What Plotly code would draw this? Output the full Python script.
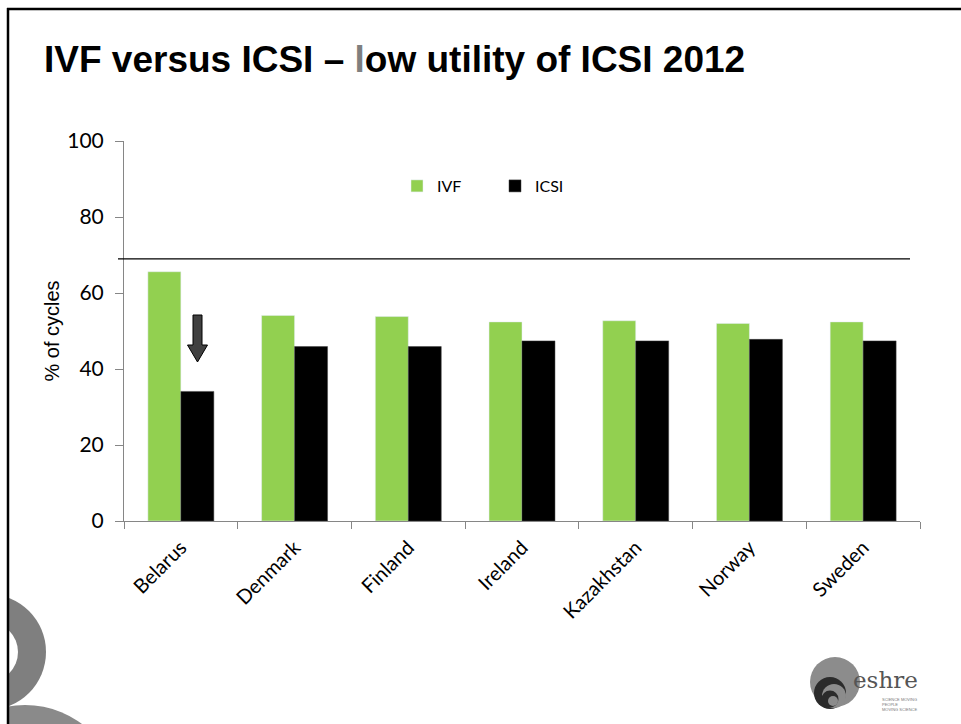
import plotly.graph_objects as go

countries = ["Belarus", "Denmark", "Finland", "Ireland", "Kazakhstan", "Norway", "Sweden"]
ivf = [65.6, 54.1, 53.8, 52.4, 52.7, 52.0, 52.4]
icsi = [34.1, 45.9, 45.9, 47.4, 47.4, 47.8, 47.4]
threshold = 69
y_ticks = [0, 20, 40, 60, 80, 100]

W, H = 961, 724
L, R, T, B = 124, 41, 141, 203
PW, PH = W - L - R, H - T - B


def px(x):
    return (x - L) / PW


def py(y):
    return (H - B - y) / PH


fig = go.Figure()
fig.add_trace(go.Bar(name="IVF", x=countries, y=ivf, marker_color="#92D050"))
fig.add_trace(go.Bar(name="ICSI", x=countries, y=icsi, marker_color="#000000",
                     marker_line=dict(color="#404040", width=0.5)))

shapes = []
# threshold line
shapes.append(dict(type="line", xref="paper", yref="y", x0=px(118), x1=px(910),
                   y0=threshold, y1=threshold, line=dict(color="black", width=1.2)))

# block arrow over Belarus ICSI bar
ax = 197.5
arrow_path = (f"M {px(ax-4.5)} {py(315)} L {px(ax+4.5)} {py(315)} L {px(ax+4.5)} {py(345)} "
              f"L {px(ax+10)} {py(345)} L {px(ax)} {py(362)} L {px(ax-10)} {py(345)} "
              f"L {px(ax-4.5)} {py(345)} Z")
shapes.append(dict(type="path", xref="paper", yref="paper", path=arrow_path,
                   fillcolor="#404040", line=dict(color="black", width=1)))


def circle(cx, cy, r, color, layer="below"):
    return dict(type="circle", xref="paper", yref="paper",
                x0=px(cx - r), x1=px(cx + r), y0=py(cy + r), y1=py(cy - r),
                fillcolor=color, line=dict(width=0), layer=layer)


# decorative rings bottom-left
shapes.append(circle(-12, 652, 58, "#7f7f7f"))
shapes.append(circle(-12, 652, 30, "white"))
shapes.append(circle(25, 800, 95, "#8a8a8a"))
shapes.append(circle(25, 800, 75, "white"))
# white mask left of frame
shapes.append(dict(type="rect", xref="paper", yref="paper", x0=px(-50), x1=px(8),
                   y0=py(800), y1=py(-10), fillcolor="white", line=dict(width=0), layer="below"))
# slide frame
shapes.append(dict(type="line", xref="paper", yref="paper", x0=px(7), x1=px(965),
                   y0=py(9), y1=py(9), line=dict(color="black", width=2.5)))
shapes.append(dict(type="line", xref="paper", yref="paper", x0=px(8), x1=px(8),
                   y0=py(8), y1=py(730), line=dict(color="black", width=2.5)))

# eshre logo
shapes.append(circle(835, 682, 25, "#8c8c8c", layer="above"))
shapes.append(circle(830, 693, 16, "#2b2b2b", layer="above"))
shapes.append(circle(834, 696, 12, "#8c8c8c", layer="above"))
shapes.append(circle(830, 699, 8.5, "#2b2b2b", layer="above"))
shapes.append(circle(833, 701, 5, "#8c8c8c", layer="above"))

annotations = [
    dict(text="<b>IVF versus ICSI – <span style='color:#7f7f7f'>l</span>ow utility of ICSI 2012</b>",
         xref="paper", yref="paper", x=px(42), y=py(59), xanchor="left", yanchor="middle",
         showarrow=False, font=dict(family="Liberation Sans, Arial", size=37, color="black")),
    dict(text="eshre", xref="paper", yref="paper", x=px(851), y=py(680), xanchor="left",
         yanchor="middle", showarrow=False,
         font=dict(family="DejaVu Serif, serif", size=23, color="#555555")),
    dict(text="SCIENCE MOVING<br>PEOPLE<br>MOVING SCIENCE", xref="paper", yref="paper",
         x=px(880), y=py(704), xanchor="left", yanchor="middle", showarrow=False, align="left",
         font=dict(family="Liberation Sans", size=4, color="#777777")),
]

fig.update_layout(
    width=W, height=H,
    margin=dict(l=L, r=R, t=T, b=B),
    paper_bgcolor="white", plot_bgcolor="white",
    barmode="group", bargap=0.42, bargroupgap=0,
    showlegend=True,
    legend=dict(orientation="h", x=px(397), y=py(186), xanchor="left", yanchor="middle",
                font=dict(family="Lato, Open Sans", size=16, color="black"),
                entrywidth=53, entrywidthmode="pixels", itemwidth=30,
                bgcolor="rgba(0,0,0,0)", traceorder="normal"),
    shapes=shapes,
    annotations=annotations,
    xaxis=dict(showline=True, linecolor="#868686", linewidth=1, ticks="outside",
               tickson="boundaries", ticklen=7, tickcolor="#868686", tickangle=-45,
               ticklabelstandoff=6,
               tickfont=dict(family="Lato, Open Sans", size=20, color="black"),
               showgrid=False),
    yaxis=dict(range=[0, 100], tickvals=y_ticks, showline=True, linecolor="#868686",
               linewidth=1, ticks="outside", ticklen=8, tickcolor="#868686",
               ticklabelstandoff=7,
               tickfont=dict(family="Lato, Open Sans", size=21, color="black"),
               showgrid=False, zeroline=False,
               title=dict(text="% of cycles", standoff=2,
                          font=dict(family="Liberation Sans, Arial", size=20, color="black"))),
)

fig.write_html("out.html", config={"displayModeBar": False},
               post_script="document.body.style.margin='0';document.body.style.overflow='hidden';")
